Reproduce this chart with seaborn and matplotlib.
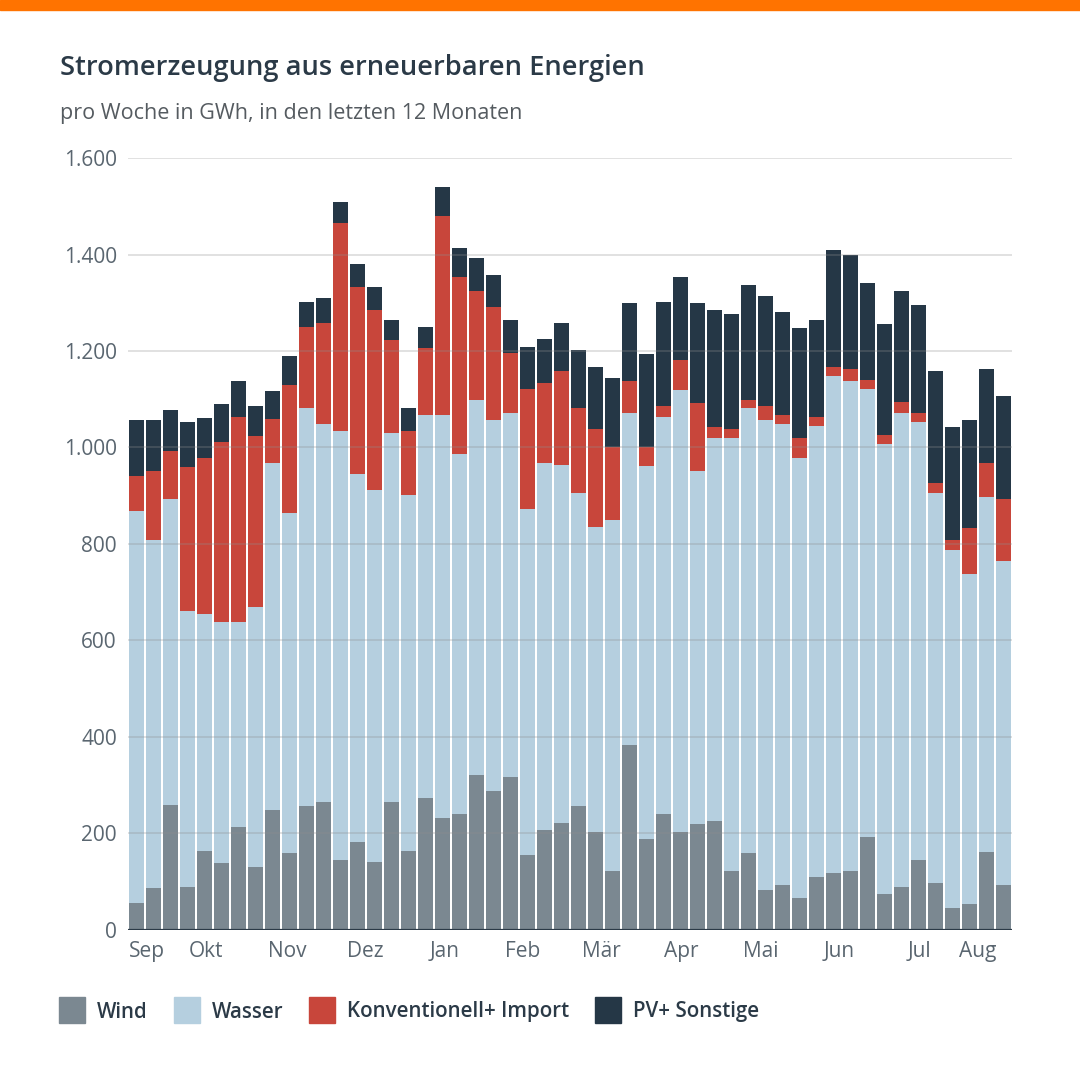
import numpy as np
import pandas as pd
import matplotlib.pyplot as plt
import matplotlib.patches as mpatches
import seaborn as sns

sns.set_theme(style="white")
plt.rcParams['font.family'] = ['Open Sans', 'DejaVu Sans']

# weekly values in GWh, last 12 months
wind = [56, 86, 260, 90, 164, 138, 214, 130, 248, 160, 256, 266, 145, 182, 141, 266, 164, 273, 232, 241,
        321, 288, 318, 156, 208, 222, 256, 204, 122, 383, 189, 241, 204, 219, 226, 122, 159, 82, 93, 67,
        109, 118, 122, 193, 74, 90, 145, 97, 45, 53, 161, 93]
wasser = [812, 723, 633, 571, 490, 501, 425, 539, 720, 704, 825, 782, 889, 763, 771, 765, 738, 794, 835, 745,
          778, 768, 753, 716, 759, 742, 649, 631, 727, 688, 772, 822, 915, 733, 794, 898, 922, 974, 956, 912,
          935, 1030, 1015, 929, 933, 981, 907, 808, 742, 685, 736, 672]
konv = [73, 143, 100, 299, 324, 373, 424, 354, 91, 266, 169, 211, 431, 388, 372, 191, 132, 140, 412, 368,
        225, 236, 125, 249, 166, 194, 176, 203, 151, 66, 39, 24, 62, 141, 23, 18, 18, 31, 18, 40,
        19, 18, 25, 18, 19, 24, 19, 22, 21, 96, 70, 128]
pv = [115, 104, 85, 92, 84, 78, 74, 63, 59, 59, 52, 50, 44, 47, 48, 43, 47, 43, 60, 59,
      68, 65, 69, 88, 92, 100, 122, 128, 145, 162, 193, 215, 173, 206, 242, 239, 237, 227, 213, 228,
      202, 244, 237, 200, 229, 229, 225, 231, 235, 224, 195, 214]

months = ["Sep", "Okt", "Nov", "Dez", "Jan", "Feb", "Mär", "Apr", "Mai", "Jun", "Jul", "Aug"]
month_pos = [0.6, 4.1, 8.85, 13.45, 18.1, 22.7, 27.35, 32.05, 36.7, 41.35, 46.05, 49.5]

series = ["Wind", "Wasser", "Konventionell+ Import", "PV+ Sonstige"]
colors = ["#7b8891", "#b5cfdf", "#c8463b", "#253746"]

df = pd.DataFrame({"week": np.arange(len(wind)), "Wind": wind, "Wasser": wasser,
                   "Konventionell+ Import": konv, "PV+ Sonstige": pv})

W = 1080
fig = plt.figure(figsize=(10.8, 10.8), dpi=100)
ax = fig.add_axes([0.1185, 0.1389, 0.8185, 0.7148])

# stacked bars: draw cumulative sums from the top segment down
for i in range(len(series) - 1, -1, -1):
    cum = df[series[:i + 1]].sum(axis=1)
    sns.barplot(x=df["week"], y=cum, color=colors[i], saturation=1, width=0.9,
                linewidth=0, ax=ax)

ax.set_xlim(-0.5, len(wind) - 0.5)
ax.set_ylim(0, 1600)
ax.set_yticks(range(0, 1601, 200))
ax.set_yticklabels([f"{v:,}".replace(",", ".") for v in range(0, 1601, 200)])
ax.set_xticks(month_pos)
ax.set_xticklabels(months)
ax.tick_params(axis="both", length=0, labelsize=15, labelcolor="#5a6670")
ax.tick_params(axis="y", pad=8)
ax.tick_params(axis="x", pad=8)
ax.set_xlabel("")
ax.set_ylabel("")
for s in ax.spines.values():
    s.set_visible(False)

for v in range(200, 1601, 200):
    ax.axhline(v, color="#8f8f8f", lw=1.1, alpha=0.35, zorder=5)
ax.axhline(0, color="#2b3a47", lw=1.6, zorder=6)

# orange band on top
fig.patches.append(mpatches.Rectangle((0, 1 - 10 / W), 1, 10 / W, transform=fig.transFigure,
                                      color="#ff7300", zorder=10))

fig.text(60 / W, 1 - 68 / W, "Stromerzeugung aus erneuerbaren Energien", fontsize=19.6,
         fontweight="semibold", color="#2b3a47", va="center")
fig.text(60 / W, 1 - 114 / W, "pro Woche in GWh, in den letzten 12 Monaten", fontsize=15.5,
         color="#555b60", va="center")

# legend: squares and labels laid out in a row
renderer = fig.canvas.get_renderer()
x = 59
for lab, c in zip(series, colors):
    fig.patches.append(mpatches.Rectangle((x / W, 1 - 1023 / W), 26 / W, 26 / W,
                                          transform=fig.transFigure, color=c))
    t = fig.text((x + 38) / W, 1 - 1012 / W, lab, fontsize=14.8, fontweight="semibold",
                 color="#2b3a47", va="center")
    x = t.get_window_extent(renderer).x1 + 26

fig.savefig("out.png", dpi=100)
